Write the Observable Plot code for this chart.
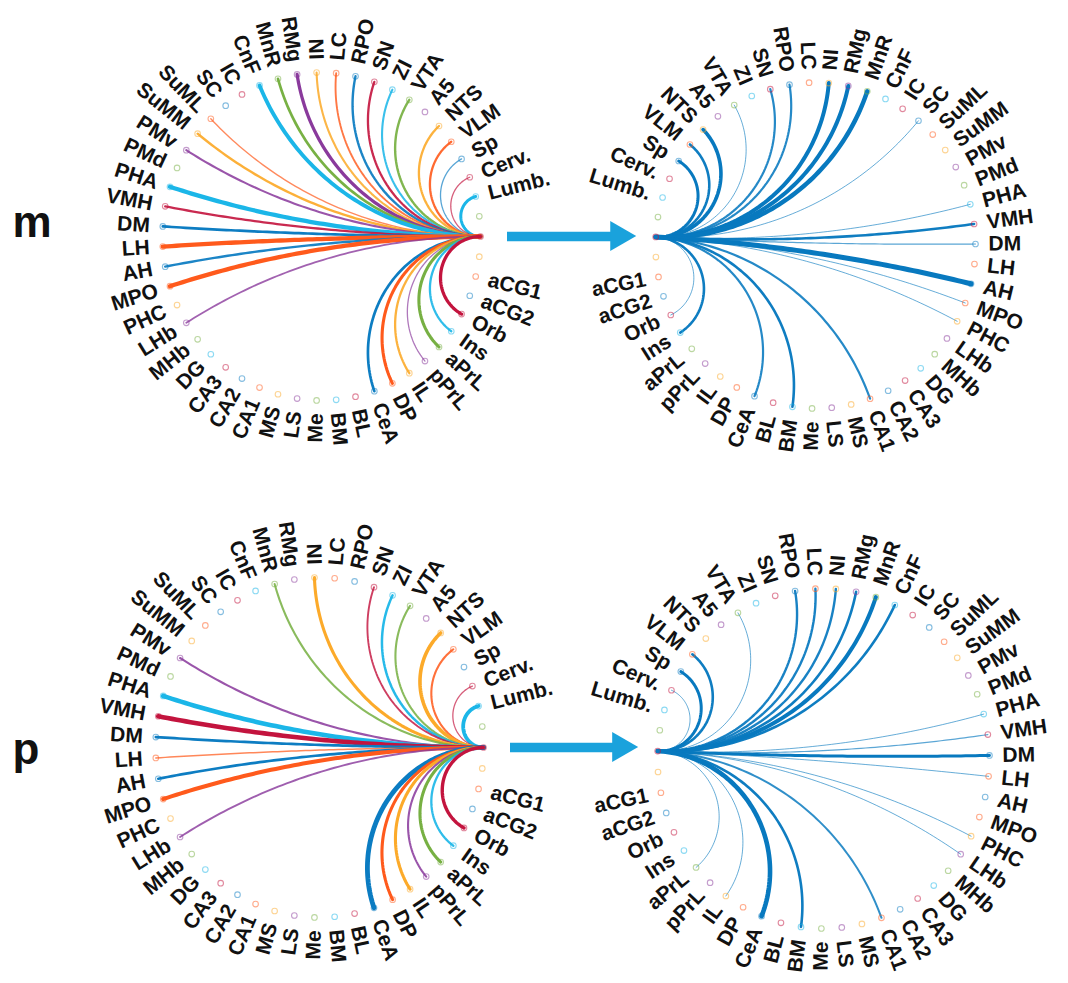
<!DOCTYPE html>
<html><head><meta charset="utf-8">
<script src="https://cdn.jsdelivr.net/npm/d3@7"></script>
<script src="https://cdn.jsdelivr.net/npm/@observablehq/plot@0.6"></script>
<style>html,body{margin:0;padding:0;background:#fff;}</style>
</head><body><div id="chart"></div>
<script>
// Region names around the circle (node 0 = hub, nodes 1 and 50 unlabeled)
const regions = ["Lumb.","Cerv.","Sp","VLM","NTS","A5","VTA","ZI","SN","RPO","LC","NI","RMg","MnR","CnF","IC","SC","SuML","SuMM","PMv","PMd","PHA","VMH","DM","LH","AH","MPO","PHC","LHb","MHb","DG","CA3","CA2","CA1","MS","LS","Me","BM","BL","CeA","DP","IL","pPrL","aPrL","Ins","Orb","aCG2","aCG1"];
const nodeLabels = ["", "", ...regions, ""];
const nodeColorKeys = ["crimson","green","cyan","crimson","blue","orange","yellow","purple","green","cyan","crimson","blue","orange","yellow","purple","green","cyan","crimson","blue","orange","yellow","purple","green","cyan","crimson","blue","orange","blue","orange","yellow","purple","green","cyan","crimson","blue","orange","yellow","purple","green","cyan","crimson","blue","orange","yellow","purple","green","cyan","crimson","blue","orange","yellow"];

// Connections (target region -> line width)
const mLeftTargets = ["Lumb.","Cerv.","Sp","VLM","NTS","VTA","ZI","SN","RPO","LC","NI","RMg","MnR","CnF","SuML","SuMM","PMv","PHA","VMH","DM","LH","AH","MPO","LHb","CeA","DP","IL","pPrL","aPrL","Ins","Orb"];
const mLeftWidths  = [3, 1.3, 1.3, 2.3, 2.3, 2.4, 2.1, 2.3, 2.4, 1.9, 2.1, 3.3, 2.7, 3.9, 1.4, 2.4, 2.1, 4.3, 2.3, 2.7, 4.3, 2.4, 4.3, 1.8, 2.7, 3.1, 2.3, 1.3, 3.1, 2.3, 3.3];
const mRightTargets = ["Sp","VLM","NTS","VTA","SN","RPO","NI","RMg","MnR","SC","PHA","VMH","DM","AH","MPO","PHC","CA1","BM","CeA","Ins","Orb"];
const mRightWidths  = [3, 2.6, 3.6, 1, 2.2, 2.2, 4, 4, 4.5, 1, 1, 2.6, 1.2, 5, 1, 1, 2.2, 2.6, 2.2, 2.6, 1];
const pLeftTargets = ["Lumb.","Cerv.","VLM","NTS","VTA","ZI","SN","NI","MnR","PMv","PHA","VMH","DM","LH","AH","MPO","LHb","CeA","DP","IL","pPrL","aPrL","Ins","Orb"];
const pLeftWidths  = [3.8, 1.3, 2.1, 3.6, 2.1, 2.5, 1.9, 3.1, 2.1, 2.1, 4.6, 4.6, 2.7, 1.5, 2.7, 4.1, 1.9, 4.8, 3.1, 3.1, 2.1, 3.1, 2.3, 3.4];
const pRightTargets = ["Cerv.","Sp","VLM","VTA","RPO","LC","NI","RMg","MnR","CnF","PHA","VMH","DM","LH","PHC","LHb","CA1","BM","CeA","IL","aPrL"];
const pRightWidths  = [1, 3, 2.6, 1, 2.4, 2.4, 2.4, 2.6, 4, 2.6, 1, 1.2, 3, 1, 1, 1, 2, 2.6, 4.6, 1, 1];

const panelLetters = ["m", "p"];

// Styles
const palette = {blue:"#0b7cc2", cyan:"#1bb6e8", orange:"#ff5a1c", yellow:"#fcaa2a", purple:"#8a3a9c", green:"#77b043", crimson:"#c3143e"};
const projBlue = "#0879bf";
const arrowBlue = "#1aa2dc";
const FONT = "'Liberation Sans', Arial, Helvetica, sans-serif";

const W = 1068, H = 983, N = nodeLabels.length;
const step = 2 * Math.PI / N;

const panels = [
  {row:0, cx:321, cy:236, rx:159, ry:164, mirror:false, rot:0,   targets:mLeftTargets,  widths:mLeftWidths,  colored:true},
  {row:0, cx:815, cy:245, rx:160, ry:163, mirror:true,  rot:3,   targets:mRightTargets, widths:mRightWidths, colored:false},
  {row:1, cx:319, cy:747, rx:164, ry:170, mirror:false, rot:0,   targets:pLeftTargets,  widths:pLeftWidths,  colored:true},
  {row:1, cx:823, cy:758, rx:166, ry:170, mirror:true,  rot:2.5, targets:pRightTargets, widths:pRightWidths, colored:false}
];
const letterDy = [-14, 2];

function angle(p, k) {
  const r = p.rot * Math.PI / 180;
  return p.mirror ? Math.PI - k * step - r : k * step + r;
}
function toScreen(p, ux, uy, extra = 0) {
  return [p.cx + (p.rx + extra) * ux, p.cy - (p.ry + extra) * uy];
}
function arcPoints(a1, a2, n = 70) {
  const u = [Math.cos(a1), Math.sin(a1)], v = [Math.cos(a2), Math.sin(a2)];
  const dot = u[0]*v[0] + u[1]*v[1];
  if (dot < -0.9995) return d3.range(n + 1).map(i => [u[0] + (v[0]-u[0])*i/n, u[1] + (v[1]-u[1])*i/n]);
  const c = [(u[0]+v[0])/(1+dot), (u[1]+v[1])/(1+dot)];
  const r = Math.hypot(u[0]-c[0], u[1]-c[1]);
  const p1 = Math.atan2(u[1]-c[1], u[0]-c[0]);
  let d = Math.atan2(v[1]-c[1], v[0]-c[0]) - p1;
  while (d > Math.PI) d -= 2*Math.PI;
  while (d < -Math.PI) d += 2*Math.PI;
  return d3.range(n + 1).map(i => { const t = p1 + d*i/n; return [c[0] + r*Math.cos(t), c[1] + r*Math.sin(t)]; });
}

const marks = [];
const nodeData = [], labelR = [], labelL = [];
for (const p of panels) {
  p.targets.forEach((name, i) => {
    const k = nodeLabels.indexOf(name);
    const w = p.widths[i];
    const pts = arcPoints(angle(p, 0), angle(p, k)).map(([ux, uy]) => {
      const [x, y] = toScreen(p, ux, uy); return {x, y};
    });
    marks.push(Plot.line(pts, {x:"x", y:"y", stroke: p.colored ? palette[nodeColorKeys[k]] : projBlue,
      strokeWidth: w, strokeOpacity: Math.min(1, 0.4 + 0.22*w), strokeLinecap:"round"}));
  });
  for (let k = 0; k < N; k++) {
    const a = angle(p, k);
    const ux = Math.cos(a), uy = Math.sin(a);
    const [x, y] = toScreen(p, ux, uy);
    nodeData.push({x, y, c: palette[nodeColorKeys[k]]});
    if (nodeLabels[k]) {
      const [lx, ly] = toScreen(p, ux, uy, 13);
      const deg = a * 180 / Math.PI;
      if (ux >= 0) labelR.push({x:lx, y:ly, t:nodeLabels[k], r:-deg});
      else labelL.push({x:lx, y:ly, t:nodeLabels[k], r:180 - deg});
    }
  }
}
marks.push(Plot.dot(nodeData, {x:"x", y:"y", r:2.8, stroke:"c", fill:"none", strokeWidth:1.1, strokeOpacity:0.5}));
const textOpts = {fontFamily: FONT, fontWeight:"bold", fontSize:21, fill:"#111"};
marks.push(Plot.text(labelR, {x:"x", y:"y", text:"t", rotate:"r", textAnchor:"start", ...textOpts}));
marks.push(Plot.text(labelL, {x:"x", y:"y", text:"t", rotate:"r", textAnchor:"end", ...textOpts}));

const arrows = [0, 1].map(row => {
  const L = panels.find(p => p.row === row && !p.mirror), R = panels.find(p => p.row === row && p.mirror);
  const [hx, hy] = toScreen(L, 1, 0);
  const a = angle(R, 0);
  const [rx] = toScreen(R, Math.cos(a), Math.sin(a));
  return {y: hy, x1: hx + 27, x2: rx - 45, tip: rx - 19};
});
marks.push(Plot.ruleY(arrows, {y:"y", x1:"x1", x2:(d) => d.x2 + 2, stroke: arrowBlue, strokeWidth: 9.5}));
const heads = arrows.flatMap((d, i) => [{i, x:d.x2, y1:d.y - 15, y2:d.y + 15}, {i, x:d.tip, y1:d.y, y2:d.y}]);
marks.push(Plot.areaY(heads, {x:"x", y1:"y1", y2:"y2", z:"i", fill: arrowBlue, curve:"linear"}));
marks.push(Plot.text(panelLetters.map((t, i) => ({t, x: 12, y: arrows[i].y + letterDy[i]})),
  {x:"x", y:"y", text:"t", textAnchor:"start", fontFamily: FONT, fontWeight:"bold", fontSize:44, fill:"#111"}));

const chart = Plot.plot({
  width: W, height: H, margin: 0,
  x: {domain:[0, W], range:[0, W], axis:null},
  y: {domain:[0, H], range:[0, H], axis:null},
  marks
});
document.getElementById("chart").appendChild(chart);
</script>
</body></html>
